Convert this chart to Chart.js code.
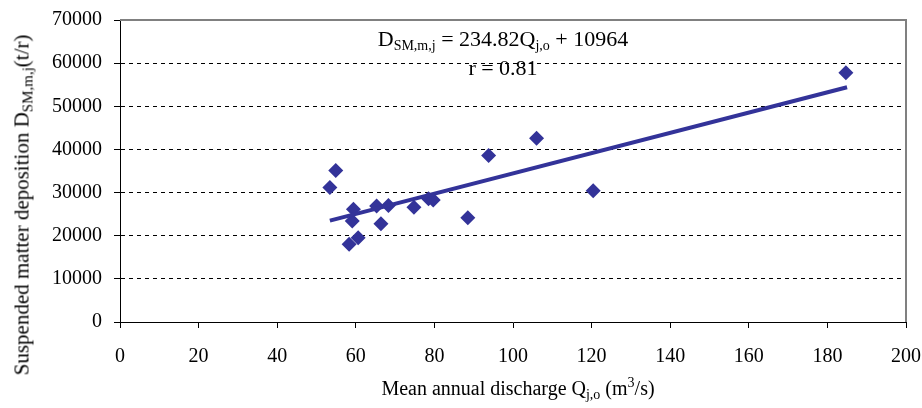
<!DOCTYPE html>
<html>
<head>
<meta charset="utf-8">
<script src="https://cdn.jsdelivr.net/npm/chart.js@4/dist/chart.umd.min.js"></script>
<style>
  body { margin: 0; background: #fff; }
  #wrap { position: relative; width: 922px; height: 408px; font-family: "Liberation Serif", "Times New Roman", serif; color: #000; }
  #chart { position: absolute; left: 0; top: 0; }
  .lbl { position: absolute; white-space: nowrap; line-height: 1; }
  .lbl sub, .lbl sup { line-height: 0; }
  .lbl sub { vertical-align: -4px; }
  .lbl sup { vertical-align: 8px; }
  #eq { left: 503px; top: 28px; font-size: 22px; transform: translateX(-50%); }
  #eq sub { font-size: 14px; }
  #rr { left: 503px; top: 57px; font-size: 22px; transform: translateX(-50%); }
  #xt { left: 518px; top: 378px; font-size: 20px; transform: translateX(-50%); }
  #xt sub, #xt sup { font-size: 14px; }
  #yt { left: 22px; top: 205px; font-size: 21px; transform: translate(-50%, -50%) rotate(-90deg); }
  #yt sub { font-size: 15px; }
</style>
</head>
<body>
<div id="wrap">
  <canvas id="chart" width="922" height="408"></canvas>
  <div class="lbl" id="eq">D<sub>SM,m,j</sub> = 234.82Q<sub>j,o</sub> + 10964</div>
  <div class="lbl" id="rr">r = 0.81</div>
  <div class="lbl" id="xt">Mean annual discharge Q<sub>j,o</sub> (m<sup>3</sup>/s)</div>
  <div class="lbl" id="yt">Suspended matter deposition D<sub>SM,m,j</sub>(t/r)</div>
</div>
<script>
// discharge (m3/s) vs suspended matter deposition (t/r)
const discharge = [53.4, 54.9, 59.4, 59.1, 58.3, 60.6, 65.3, 68.3, 66.4, 74.8, 78.5, 79.7, 88.5, 93.8, 106.0, 120.4, 184.7];
const deposition = [31200, 35100, 26150, 23400, 18050, 19550, 26900, 27000, 22750, 26600, 28550, 28300, 24150, 38600, 42600, 30400, 57800];

// trend line end points
const trendX = [53.4, 185];
const trendY = [23503, 54406];

const xTicks = [0, 20, 40, 60, 80, 100, 120, 140, 160, 180, 200];
const yTicks = [0, 10000, 20000, 30000, 40000, 50000, 60000, 70000];

const blue = '#333399';

const framePlugin = {
    id: 'frame',
    beforeDatasetsDraw(chart) {
        const a = chart.chartArea;
        const ctx = chart.ctx;
        ctx.save();
        ctx.strokeStyle = '#808080';
        ctx.lineWidth = 2;
        ctx.beginPath();
        ctx.moveTo(a.left, a.top);
        ctx.lineTo(a.right, a.top);
        ctx.lineTo(a.right, a.bottom);
        ctx.stroke();
        ctx.restore();
    }
};

const tickFont = { family: '"Liberation Serif", "Times New Roman", serif', size: 20 };

new Chart(document.getElementById('chart'), {
    data: {
        datasets: [{
            type: 'scatter',
            data: discharge.map((x, i) => ({ x: x, y: deposition[i] })),
            pointStyle: 'rectRot',
            pointRadius: 7.5,
            pointHoverRadius: 7.5,
            backgroundColor: blue,
            borderColor: blue,
            borderWidth: 0,
            order: 2
        }, {
            type: 'line',
            data: trendX.map((x, i) => ({ x: x, y: trendY[i] })),
            borderColor: blue,
            borderWidth: 4,
            pointRadius: 0,
            fill: false,
            order: 1
        }]
    },
    options: {
        responsive: false,
        animation: false,
        events: [],
        layout: { padding: { left: 0, right: 16, top: 20, bottom: 0 } },
        plugins: {
            legend: { display: false },
            tooltip: { enabled: false }
        },
        scales: {
            x: {
                type: 'linear',
                min: 0,
                max: 200,
                afterBuildTicks: (s) => { s.ticks = xTicks.map(v => ({ value: v })); },
                afterFit: (s) => { s.height = 86; s.paddingLeft = 0; s.paddingRight = 0; },
                ticks: { color: '#000', font: tickFont, padding: 17, maxRotation: 0 },
                grid: { drawOnChartArea: false, drawTicks: true, tickLength: 6, tickColor: '#000' },
                border: { color: '#000', width: 1 }
            },
            y: {
                type: 'linear',
                min: 0,
                max: 70000,
                afterBuildTicks: (s) => { s.ticks = yTicks.map(v => ({ value: v })); },
                afterFit: (s) => { s.width = 120; s.paddingTop = 0; s.paddingBottom = 0; },
                ticks: { color: '#000', font: tickFont, padding: 12, callback: (v) => String(v) },
                grid: {
                    color: (c) => (c.tick && (c.tick.value === 0 || c.tick.value === 70000)) ? 'rgba(0,0,0,0)' : '#000',
                    tickColor: '#000',
                    tickLength: 6,
                    tickBorderDash: [],
                    lineWidth: 1
                },
                border: { color: '#000', width: 1, dash: [4, 4] }
            }
        }
    },
    plugins: [framePlugin]
});
</script>
</body>
</html>
